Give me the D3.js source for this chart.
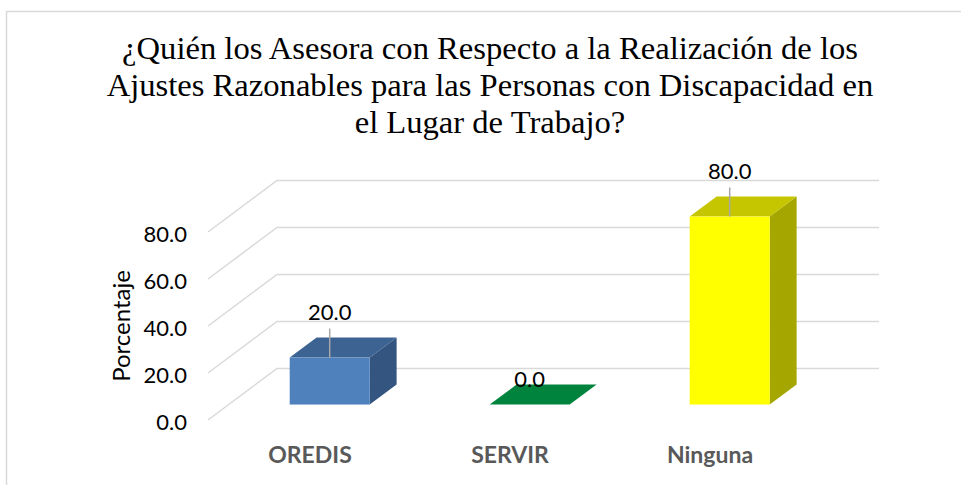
<!DOCTYPE html>
<html>
<head>
<meta charset="utf-8">
<script src="https://cdn.jsdelivr.net/npm/d3@7"></script>
<style>
  html, body { margin: 0; padding: 0; background: #fff; }
  svg { display: block; }
  .title { font-family: 'Liberation Serif', 'Tinos', 'DejaVu Serif', serif; }
</style>
</head>
<body>
<div id="chart"></div>
<script>
// data
const categories = ['OREDIS', 'SERVIR', 'Ninguna'];
const values = [20.0, 0.0, 80.0];
const yTicks = [0, 20, 40, 60, 80];
const titleLines = [
    '¿Quién los Asesora con Respecto a la Realización de los',
    'Ajustes Razonables para las Personas con Discapacidad en',
    'el Lugar de Trabajo?'
];
const frontColors = ['#4f81bd', '#00843d', '#ffff00'];
const topColors = ['#3d6392', '#00843d', '#c6c600'];
const sideColors = ['#34557f', '#006d32', '#a6a600'];

const width = 961;
const height = 485;

const svg = d3.select('#chart')
    .append('svg')
    .attr('width', width)
    .attr('height', height);

// chart area border (runs off the right / bottom edge)
svg.append('rect')
    .attr('x', 6.5)
    .attr('y', 11.5)
    .attr('width', 970)
    .attr('height', 490)
    .attr('fill', 'none')
    .attr('stroke', '#d9d9d9')
    .attr('stroke-width', 1.5);

// title - fit the first line to the width it has in the picture
const title = svg.append('text')
    .attr('class', 'title')
    .attr('text-anchor', 'middle')
    .attr('font-size', 30)
    .attr('fill', '#000');

title.selectAll('tspan')
    .data(titleLines)
    .enter()
    .append('tspan')
    .attr('x', 490)
    .attr('y', (d, i) => 59 + i * 37)
    .text(d => d);

const firstLen = title.select('tspan').node().getComputedTextLength();
title.attr('font-size', 30 * 736 / firstLen);

// scales: front plane + depth offsets for the fake 3d
const x = d3.scaleBand().domain(categories).range([209, 809]);
const y = d3.scaleLinear().domain([0, 80]).range([420, 232]);
const depthX = d3.scaleLinear().domain([0, 1]).range([0, 69]);
const depthY = d3.scaleLinear().domain([0, 1]).range([0, -51.5]);

const z0 = 0.3; // front face of bars
const z1 = 0.69; // back face of bars
const barW = x.bandwidth() * 0.4;

// gridlines: diagonal on the side wall, then flat along the back wall
const grid = svg.append('g').attr('class', 'grid');
grid.selectAll('path')
    .data(yTicks)
    .enter()
    .append('path')
    .attr('fill', 'none')
    .attr('stroke', '#d9d9d9')
    .attr('stroke-width', 1.5)
    .attr('d', d => {
        const x0 = x.range()[0] - 1;
        const x1 = x.range()[1] + depthX(1) + 1;
        return d3.line()([
            [x0, y(d)],
            [x0 + depthX(1), y(d) + depthY(1)],
            [x1, y(d) + depthY(1)]
        ]);
    });

// y tick labels
svg.append('g')
    .selectAll('text')
    .data(yTicks)
    .enter()
    .append('text')
    .attr('x', 187)
    .attr('y', d => y(d) + 2)
    .attr('dy', '0.35em')
    .attr('text-anchor', 'end')
    .attr('font-family', 'Lato, "Open Sans", sans-serif')
    .attr('font-size', 22)
    .attr('fill', '#000')
    .text(d => d3.format('.1f')(d));

// y axis title
svg.append('text')
    .attr('transform', 'translate(122, 326) rotate(-90)')
    .attr('dy', '0.35em')
    .attr('text-anchor', 'middle')
    .attr('font-family', 'Lato, "Open Sans", sans-serif')
    .attr('font-size', 24)
    .attr('fill', '#000')
    .text('Porcentaje');

// bars
const bars = categories.map((c, i) => {
    const cx = x(c) + x.bandwidth() / 2;
    const xl = cx - barW / 2 + depthX(z0);
    const xr = cx + barW / 2 + depthX(z0);
    const yb = y(0) + depthY(z0);
    const yt = y(values[i]) + depthY(z0);
    const ddx = depthX(z1) - depthX(z0);
    const ddy = depthY(z1) - depthY(z0);
    return { c, i, cx: cx + depthX(z0), xl, xr, yb, yt, ddx, ddy, v: values[i] };
});

const barG = svg.append('g')
    .selectAll('g.bar')
    .data(bars)
    .enter()
    .append('g')
    .attr('class', 'bar');

// side face
barG.filter(d => d.v > 0)
    .append('path')
    .attr('fill', d => sideColors[d.i])
    .attr('d', d => d3.line()([
        [d.xr, d.yt],
        [d.xr + d.ddx, d.yt + d.ddy],
        [d.xr + d.ddx, d.yb + d.ddy],
        [d.xr, d.yb]
    ]) + 'Z');

// top face
barG.append('path')
    .attr('fill', d => topColors[d.i])
    .attr('d', d => d3.line()([
        [d.xl, d.yt],
        [d.xr, d.yt],
        [d.xr + d.ddx, d.yt + d.ddy],
        [d.xl + d.ddx, d.yt + d.ddy]
    ]) + 'Z');

// front face
barG.filter(d => d.v > 0)
    .append('rect')
    .attr('x', d => d.xl)
    .attr('y', d => d.yt)
    .attr('width', d => d.xr - d.xl)
    .attr('height', d => d.yb - d.yt)
    .attr('fill', d => frontColors[d.i]);

// leader lines
barG.filter(d => d.v > 0)
    .append('line')
    .attr('x1', d => d.cx)
    .attr('x2', d => d.cx)
    .attr('y1', d => d.yt - 29)
    .attr('y2', d => d.yt)
    .attr('stroke', '#a6a6a6')
    .attr('stroke-width', 1.5);

// value labels
barG.append('text')
    .attr('x', d => d.cx)
    .attr('y', d => d.v > 0 ? d.yt - 45 : d.yt - 25)
    .attr('dy', '0.35em')
    .attr('text-anchor', 'middle')
    .attr('font-family', 'Lato, "Open Sans", sans-serif')
    .attr('font-size', 22)
    .attr('fill', '#000')
    .text(d => d3.format('.1f')(d.v));

// category labels
svg.append('g')
    .selectAll('text')
    .data(categories)
    .enter()
    .append('text')
    .attr('x', d => x(d) + x.bandwidth() / 2 + 1)
    .attr('y', 455)
    .attr('dy', '0.35em')
    .attr('text-anchor', 'middle')
    .attr('font-family', 'Lato, "Open Sans", sans-serif')
    .attr('font-weight', 'bold')
    .attr('font-size', 23)
    .attr('fill', '#595959')
    .text(d => d);
</script>
</body>
</html>
